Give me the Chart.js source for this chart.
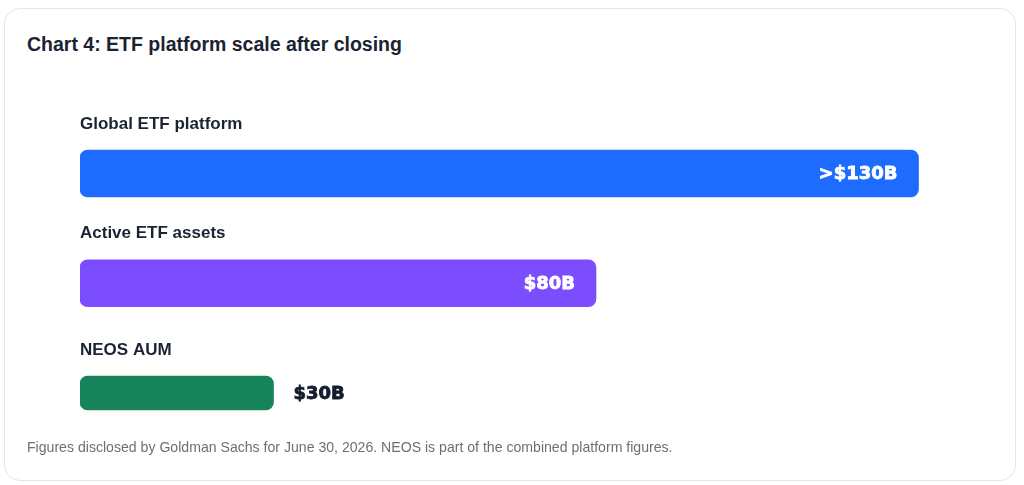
<!DOCTYPE html>
<html lang="en">
  <head>
    <meta charset="UTF-8" />
    <title>Chart 4: ETF platform scale after closing</title>
    <script src="https://cdn.jsdelivr.net/npm/chart.js@4.4.0/dist/chart.umd.min.js"></script>
    <style>
      html, body { margin: 0; padding: 0; background: #fff; }
      body { width: 1024px; height: 485px; position: relative; overflow: hidden; font-family: "Liberation Sans", Arial, sans-serif; }
      .card {
        position: absolute; left: 4px; top: 8px; width: 1010px; height: 471px;
        border: 1px solid #e3e6ea; border-radius: 16px; background: #fff;
      }
      .title {
        position: absolute; left: 27px; top: 33px; margin: 0;
        font-size: 19.5px; font-weight: bold; color: #1b2333; white-space: nowrap;
      }
      #wrap { position: absolute; left: 0; top: 60px; width: 1024px; height: 400px; }
      .note {
        position: absolute; left: 27px; top: 439px; margin: 0;
        font-size: 14.1px; color: #6b7078; white-space: nowrap;
      }
    </style>
  </head>
  <body>
    <div class="card"></div>
    <h3 class="title">Chart 4: ETF platform scale after closing</h3>
    <div id="wrap"><canvas id="myChart"></canvas></div>
    <p class="note">Figures disclosed by Goldman Sachs for June 30, 2026. NEOS is part of the combined platform figures.</p>
    <script>
      // data
      const categories = ["Global ETF platform", "Active ETF assets", "NEOS AUM"];
      const values = [130, 80, 30];
      const valueLabels = [">$130B", "$80B", "$30B"];

      // look of each bar
      const barColors = ["#1e6bff", "#7c4dff", "#17835a"];
      const barThick = [47, 47, 34];
      const labelInside = [true, true, false];

      var datasets = [];
      for (i = 0; i < categories.length; i++) {
        var d = categories.map(() => null);
        d[i] = values[i];
        datasets.push({
          label: categories[i],
          data: d,
          backgroundColor: barColors[i],
          borderRadius: 8,
          borderSkipped: false,
          barThickness: barThick[i],
        });
      }

      // category names above bars + value text
      const barText = {
        id: "barText",
        afterDatasetsDraw(chart) {
          var ctx = chart.ctx;
          ctx.save();
          for (i = 0; i < categories.length; i++) {
            var bar = chart.getDatasetMeta(i).data[i];
            var top = bar.y - bar.height / 2;
            ctx.textBaseline = "middle";
            ctx.textAlign = "left";
            ctx.fillStyle = "#1b2333";
            ctx.font = "bold 17px 'Liberation Sans', Arial, sans-serif";
            ctx.fillText(categories[i], chart.chartArea.left, top - 26);

            // heavy look: fill + thin stroke
            ctx.font = "bold 18px 'DejaVu Sans', Verdana, sans-serif";
            ctx.lineWidth = 0.8;
            var tx, col;
            if (labelInside[i]) {
              ctx.textAlign = "right";
              col = "#ffffff";
              tx = bar.x - 21;
            } else {
              ctx.textAlign = "left";
              col = "#141c2e";
              tx = bar.x + 20;
            }
            ctx.fillStyle = col;
            ctx.strokeStyle = col;
            ctx.fillText(valueLabels[i], tx, bar.y + 1);
            ctx.strokeText(valueLabels[i], tx, bar.y + 1);
          }
          ctx.restore();
        },
      };

      new Chart(document.getElementById("myChart"), {
        type: "bar",
        data: { labels: categories, datasets: datasets },
        options: {
          indexAxis: "y",
          responsive: true,
          maintainAspectRatio: false,
          animation: false,
          layout: { padding: { left: 80, right: 41, top: 58.6, bottom: 12.1 } },
          scales: {
            x: { display: false, min: 0, max: 140 },
            y: { display: false, stacked: false },
          },
          datasets: { bar: { grouped: false } },
          plugins: {
            legend: { display: false },
            tooltip: { enabled: false },
          },
        },
        plugins: [barText],
      });
    </script>
  </body>
</html>
